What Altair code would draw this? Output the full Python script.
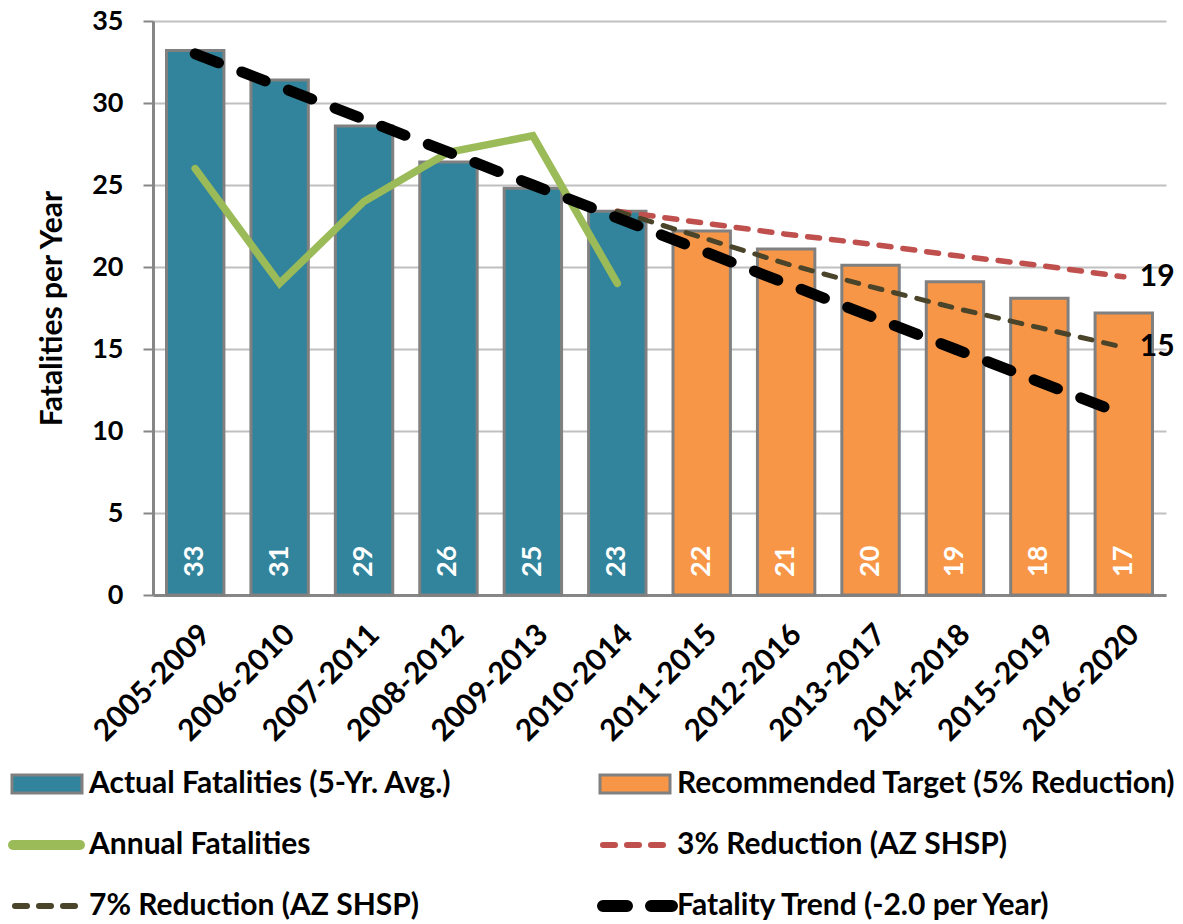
import altair as alt
import pandas as pd

periods = ["2005-2009", "2006-2010", "2007-2011", "2008-2012", "2009-2013", "2010-2014",
           "2011-2015", "2012-2016", "2013-2017", "2014-2018", "2015-2019", "2016-2020"]
actual_avg = [33.2, 31.4, 28.6, 26.4, 24.8, 23.4]
target_5pct = [22.2, 21.1, 20.1, 19.1, 18.1, 17.2]
annual = [26, 19, 24, 27, 28, 19]
red_3pct = [23.4, 22.7, 22.0, 21.4, 20.7, 20.1, 19.4]
olive_7pct = [23.4, 21.8, 20.2, 18.8, 17.5, 16.3, 15.1]
trend = [33.0, 31.0, 29.0, 27.0, 25.0, 23.0, 21.0, 19.0, 17.0, 15.0, 13.0, 11.0]

S_ACT = "Actual Fatalities (5-Yr. Avg.)"
S_TGT = "Recommended Target (5% Reduction)"
S_ANN = "Annual Fatalities"
S_3 = "3% Reduction (AZ SHSP)"
S_7 = "7% Reduction (AZ SHSP)"
S_TR = "Fatality Trend (-2.0 per Year)"

legend_labels = [S_ACT, S_TGT, S_ANN, S_3, S_7, S_TR]
legend_cols = [0, 1, 0, 1, 0, 1]
legend_rows = [0, 0, 1, 1, 2, 2]

FONT = "Lato"
TEAL = "#31849B"
ORANGE = "#F79646"
GREEN = "#9BBB59"
RED = "#C0504D"
OLIVE = "#4A452A"
GRAY = "#868686"

bars_df = pd.DataFrame({
    "period": periods,
    "value": actual_avg + target_5pct,
    "series": [S_ACT] * len(actual_avg) + [S_TGT] * len(target_5pct),
})
ann_df = pd.DataFrame({"period": periods[:len(annual)], "value": annual})
red_df = pd.DataFrame({"period": periods[5:], "value": red_3pct})
olive_df = pd.DataFrame({"period": periods[5:], "value": olive_7pct})
trend_df = pd.DataFrame({"period": periods, "value": trend})
ends_df = pd.DataFrame({"period": [periods[-1], periods[-1]],
                        "value": [red_3pct[-1], olive_7pct[-1]]})
leg_df = pd.DataFrame({"label": legend_labels, "col": legend_cols, "row": legend_rows})

xenc = alt.X("period:N", sort=periods, title=None,
             scale=alt.Scale(paddingInner=0.32, paddingOuter=0.16),
             axis=alt.Axis(labelAngle=315, labelAlign="right", labelBaseline="top",
                           labelPadding=24, labelFont=FONT, labelFontWeight="bold",
                           labelFontSize=30, labelColor="black", ticks=False,
                           domainColor=GRAY, domainWidth=3, grid=False))
yscale = alt.Scale(domain=[0, 35], nice=False)
yenc = alt.Y("value:Q", scale=yscale, title="Fatalities per Year",
             axis=alt.Axis(values=[0, 5, 10, 15, 20, 25, 30, 35], labelFont=FONT,
                           labelFontWeight="bold", labelFontSize=27, labelColor="black",
                           labelPadding=20, tickSize=10, tickColor=GRAY, tickWidth=2,
                           domainColor=GRAY, domainWidth=3, grid=True, gridColor="#C0C0C0",
                           gridWidth=2, titleFont=FONT, titleFontWeight="bold",
                           titleFontSize=30, titleColor="black", titlePadding=24))

color_scale = alt.Scale(domain=[S_ACT, S_TGT], range=[TEAL, ORANGE])

bars = alt.Chart(bars_df).mark_bar(stroke="#808080", strokeWidth=3).encode(
    x=xenc, y=yenc, color=alt.Color("series:N", scale=color_scale, legend=None))

bar_labels = alt.Chart(bars_df).mark_text(
    angle=270, align="left", baseline="middle", dx=18, color="white",
    font=FONT, fontWeight="bold", fontSize=27).encode(
    x=alt.X("period:N", sort=periods), y=alt.datum(0),
    text=alt.Text("value:Q", format=".0f"))

green = alt.Chart(ann_df).mark_line(color=GREEN, strokeWidth=7.5, strokeCap="round",
                                    strokeJoin="miter").encode(
    x=alt.X("period:N", sort=periods), y="value:Q")
red = alt.Chart(red_df).mark_line(color=RED, strokeWidth=5.5, strokeCap="round",
                                  strokeDash=[12, 12]).encode(
    x=alt.X("period:N", sort=periods), y="value:Q")
olive = alt.Chart(olive_df).mark_line(color=OLIVE, strokeWidth=5, strokeCap="round",
                                      strokeDash=[12, 12]).encode(
    x=alt.X("period:N", sort=periods), y="value:Q")
black = alt.Chart(trend_df).mark_line(color="black", strokeWidth=11, strokeCap="round",
                                      strokeDash=[25, 25]).encode(
    x=alt.X("period:N", sort=periods), y="value:Q")
end_labels = alt.Chart(ends_df).mark_text(
    align="left", baseline="middle", dx=16, color="black",
    font=FONT, fontWeight="bold", fontSize=30).encode(
    x=alt.X("period:N", sort=periods), y="value:Q",
    text=alt.Text("value:Q", format=".0f"))

main = alt.layer(bars, bar_labels, green, red, olive, black, end_labels)

# legend drawn below the plot with its own scales
lx = alt.X("col:Q", axis=None, scale=alt.Scale(domain=[0, 1], range=[-141, 447], nice=False, zero=False))
lx2 = alt.X2("col:Q")
ly = alt.Y("row:Q", axis=None, scale=alt.Scale(domain=[0, 2], range=[763, 885], nice=False, zero=False))
ly2 = alt.Y2("row:Q")

leg_rect = alt.Chart(leg_df).transform_filter(
    alt.FieldOneOfPredicate(field="label", oneOf=[S_ACT, S_TGT])
).mark_rect(stroke="#808080", strokeWidth=3, x2Offset=70, yOffset=-9, y2Offset=9).encode(
    x=lx, x2=lx2, y=ly, y2=ly2,
    color=alt.Color("label:N", scale=color_scale, legend=None))


def leg_line(label, color, width, dash=None, x0=0, x1=70):
    kw = dict(color=color, strokeWidth=width, strokeCap="round", xOffset=x0, x2Offset=x1)
    if dash is not None:
        kw["strokeDash"] = dash
    return alt.Chart(leg_df).transform_filter(
        alt.FieldEqualPredicate(field="label", equal=label)
    ).mark_rule(**kw).encode(x=lx, x2=lx2, y=ly)


leg_green = leg_line(S_ANN, GREEN, 10, None, 1, 68)
leg_red = leg_line(S_3, RED, 6, [12, 12], 3, 68)
leg_olive = leg_line(S_7, OLIVE, 6, [12, 12], 3, 68)
leg_black = leg_line(S_TR, "black", 12, [24, 24], 3, 72)

leg_text = alt.Chart(leg_df).mark_text(
    align="left", baseline="middle", dx=77, color="black",
    font=FONT, fontWeight="bold", fontSize=30).encode(
    x=lx, y=ly, text="label:N")

legend = alt.layer(leg_rect, leg_green, leg_red, leg_olive, leg_black, leg_text)

chart = alt.layer(main, legend).resolve_scale(
    x="independent", y="independent"
).properties(
    width=1013, height=574,
    autosize=alt.AutoSizeParams(type="none"),
    padding={"left": 153, "top": 21, "right": 17, "bottom": 329},
    background="white",
).configure_view(stroke=None)

chart.save("out.html", embed_options={"renderer": "svg", "actions": False})
